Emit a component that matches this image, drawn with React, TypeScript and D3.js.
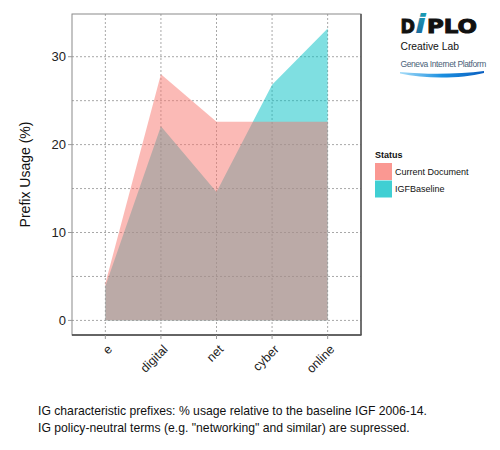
import * as d3 from "d3";

// chart values
const categories = ["e", "digital", "net", "cyber", "online"];
const currentDocument = [4.2, 28.0, 22.6, 22.6, 22.6];
const igfBaseline = [3.9, 22.1, 14.6, 26.8, 33.2];
const yTicks = [0, 10, 20, 30];
const yMinorTicks = [5, 15, 25];
const seriesNames = ["Current Document", "IGFBaseline"];
const seriesColors = ["#F8766D", "#00BFC4"];
const captionLines = [
    "IG characteristic prefixes: % usage relative to the baseline IGF 2006-14.",
    'IG policy-neutral terms (e.g. "networking" and similar) are supressed.',
];

const width = 500;
const height = 450;
const panel = { left: 72, right: 361, top: 14, bottom: 335 };
const font = "'Liberation Sans', Arial, sans-serif";

export default function App() {
    const x = d3.scalePoint<string>()
        .domain(categories)
        .range([panel.left, panel.right])
        .padding(0.6);

    const yMax = d3.max([...currentDocument, ...igfBaseline]) as number;
    const pad = yMax * 0.05;
    const y = d3.scaleLinear()
        .domain([-pad, yMax + pad])
        .range([panel.bottom, panel.top]);

    const area = d3.area<number>()
        .x((_, i) => x(categories[i]) as number)
        .y0(y(0))
        .y1((d) => y(d));

    // baseline first, current document over it (as in the picture)
    const layers = [
        { values: igfBaseline, color: seriesColors[1] },
        { values: currentDocument, color: seriesColors[0] },
    ];

    return (
        <svg width={width} height={height} style={{ position: "absolute", left: 0, top: 0, background: "white" }}>
            {/* grid */}
            <g stroke="#a8a8a8" strokeWidth={1} strokeDasharray="2,2">
                {[...yTicks, ...yMinorTicks].map((t) => (
                    <line key={"h" + t} x1={panel.left} x2={panel.right} y1={y(t)} y2={y(t)} />
                ))}
                {categories.map((c) => (
                    <line key={"v" + c} x1={x(c)} x2={x(c)} y1={panel.top} y2={panel.bottom} />
                ))}
            </g>

            {layers.map((l, i) => (
                <path key={i} d={area(l.values) ?? ""} fill={l.color} fillOpacity={0.5} />
            ))}

            {/* panel border */}
            <rect x={panel.left} y={panel.top} width={panel.right - panel.left} height={panel.bottom - panel.top}
                fill="none" stroke="#8a8a8a" strokeWidth={1} />
            <line x1={panel.left} x2={panel.right + 0.5} y1={panel.bottom} y2={panel.bottom} stroke="#444" strokeWidth={1.5} />
            <line x1={panel.right} x2={panel.right} y1={panel.top} y2={panel.bottom} stroke="#555" strokeWidth={1.5} />

            {/* y axis */}
            <g fontFamily={font} fontSize={13} fill="#222">
                {yTicks.map((t) => (
                    <g key={t}>
                        <line x1={panel.left - 4} x2={panel.left} y1={y(t)} y2={y(t)} stroke="#999" />
                        <text x={panel.left - 6} y={y(t)} dy="0.36em" textAnchor="end">{t}</text>
                    </g>
                ))}
            </g>
            <text transform={`translate(30,${(panel.top + panel.bottom) / 2}) rotate(-90)`}
                textAnchor="middle" fontFamily={font} fontSize={14} fill="#111">Prefix Usage (%)</text>

            {/* x axis */}
            <g fontFamily={font} fontSize={12.5} fill="#222">
                {categories.map((c) => (
                    <g key={c}>
                        <line x1={x(c)} x2={x(c)} y1={panel.bottom} y2={panel.bottom + 4} stroke="#999" />
                        <text transform={`translate(${(x(c) as number) + 4.5},${panel.bottom + 12}) rotate(-45)`}
                            textAnchor="end" dy="0.35em">{c}</text>
                    </g>
                ))}
            </g>

            {/* legend */}
            <g fontFamily={font}>
                <text x={375} y={158} fontSize={9} fontWeight="bold" fill="#111">Status</text>
                {seriesNames.map((s, i) => (
                    <g key={s}>
                        <rect x={375} y={163 + i * 17.5} width={17} height={17} fill={seriesColors[i]} fillOpacity={0.75} />
                        <text x={395} y={163 + i * 17.5 + 8.5} dy="0.35em" fontSize={9} fill="#111">{s}</text>
                    </g>
                ))}
            </g>

            {/* logo */}
            <defs>
                <linearGradient id="swoosh" x1="0" x2="1" y1="0" y2="0">
                    <stop offset="0" stopColor="#a5dcf8" />
                    <stop offset="0.5" stopColor="#1a8fe0" />
                    <stop offset="1" stopColor="#0b5fc0" />
                </linearGradient>
                <linearGradient id="istem" x1="0" x2="0" y1="0" y2="1">
                    <stop offset="0" stopColor="#1aa6b8" />
                    <stop offset="1" stopColor="#1b5f9a" />
                </linearGradient>
            </defs>
            <g fontFamily="'DejaVu Sans', sans-serif" fontWeight="bold" fill="#111" stroke="#111" strokeWidth={1}>
                <text x={400.5} y={33} fontSize={19} textLength={14.5} lengthAdjust="spacingAndGlyphs">D</text>
                <text x={427} y={33} fontSize={19} textLength={50} lengthAdjust="spacingAndGlyphs">PLO</text>
            </g>
            <text x={415} y={33} fontFamily="'DejaVu Sans', sans-serif" fontWeight="bold" fontStyle="italic"
                fontSize={26} fill="url(#istem)" textLength={11} lengthAdjust="spacingAndGlyphs">i</text>
            <text x={400.5} y={49.5} fontFamily={font} fontSize={10.3} fill="#111">Creative Lab</text>
            <text x={400.5} y={67} fontFamily={font} fontSize={8.5}
                fill="#4a6278" letterSpacing={-0.4}>Geneva Internet Platform</text>
            <path d="M400,72 C430,75 460,74 484,71 L484,73 C460,79 425,79 400,73.5 Z" fill="url(#swoosh)" />

            {/* caption */}
            <g fontFamily={font} fontSize={12.2} fill="#111">
                {captionLines.map((l, i) => (
                    <text key={i} x={38} y={415 + i * 17}>{l}</text>
                ))}
            </g>
        </svg>
    );
}
